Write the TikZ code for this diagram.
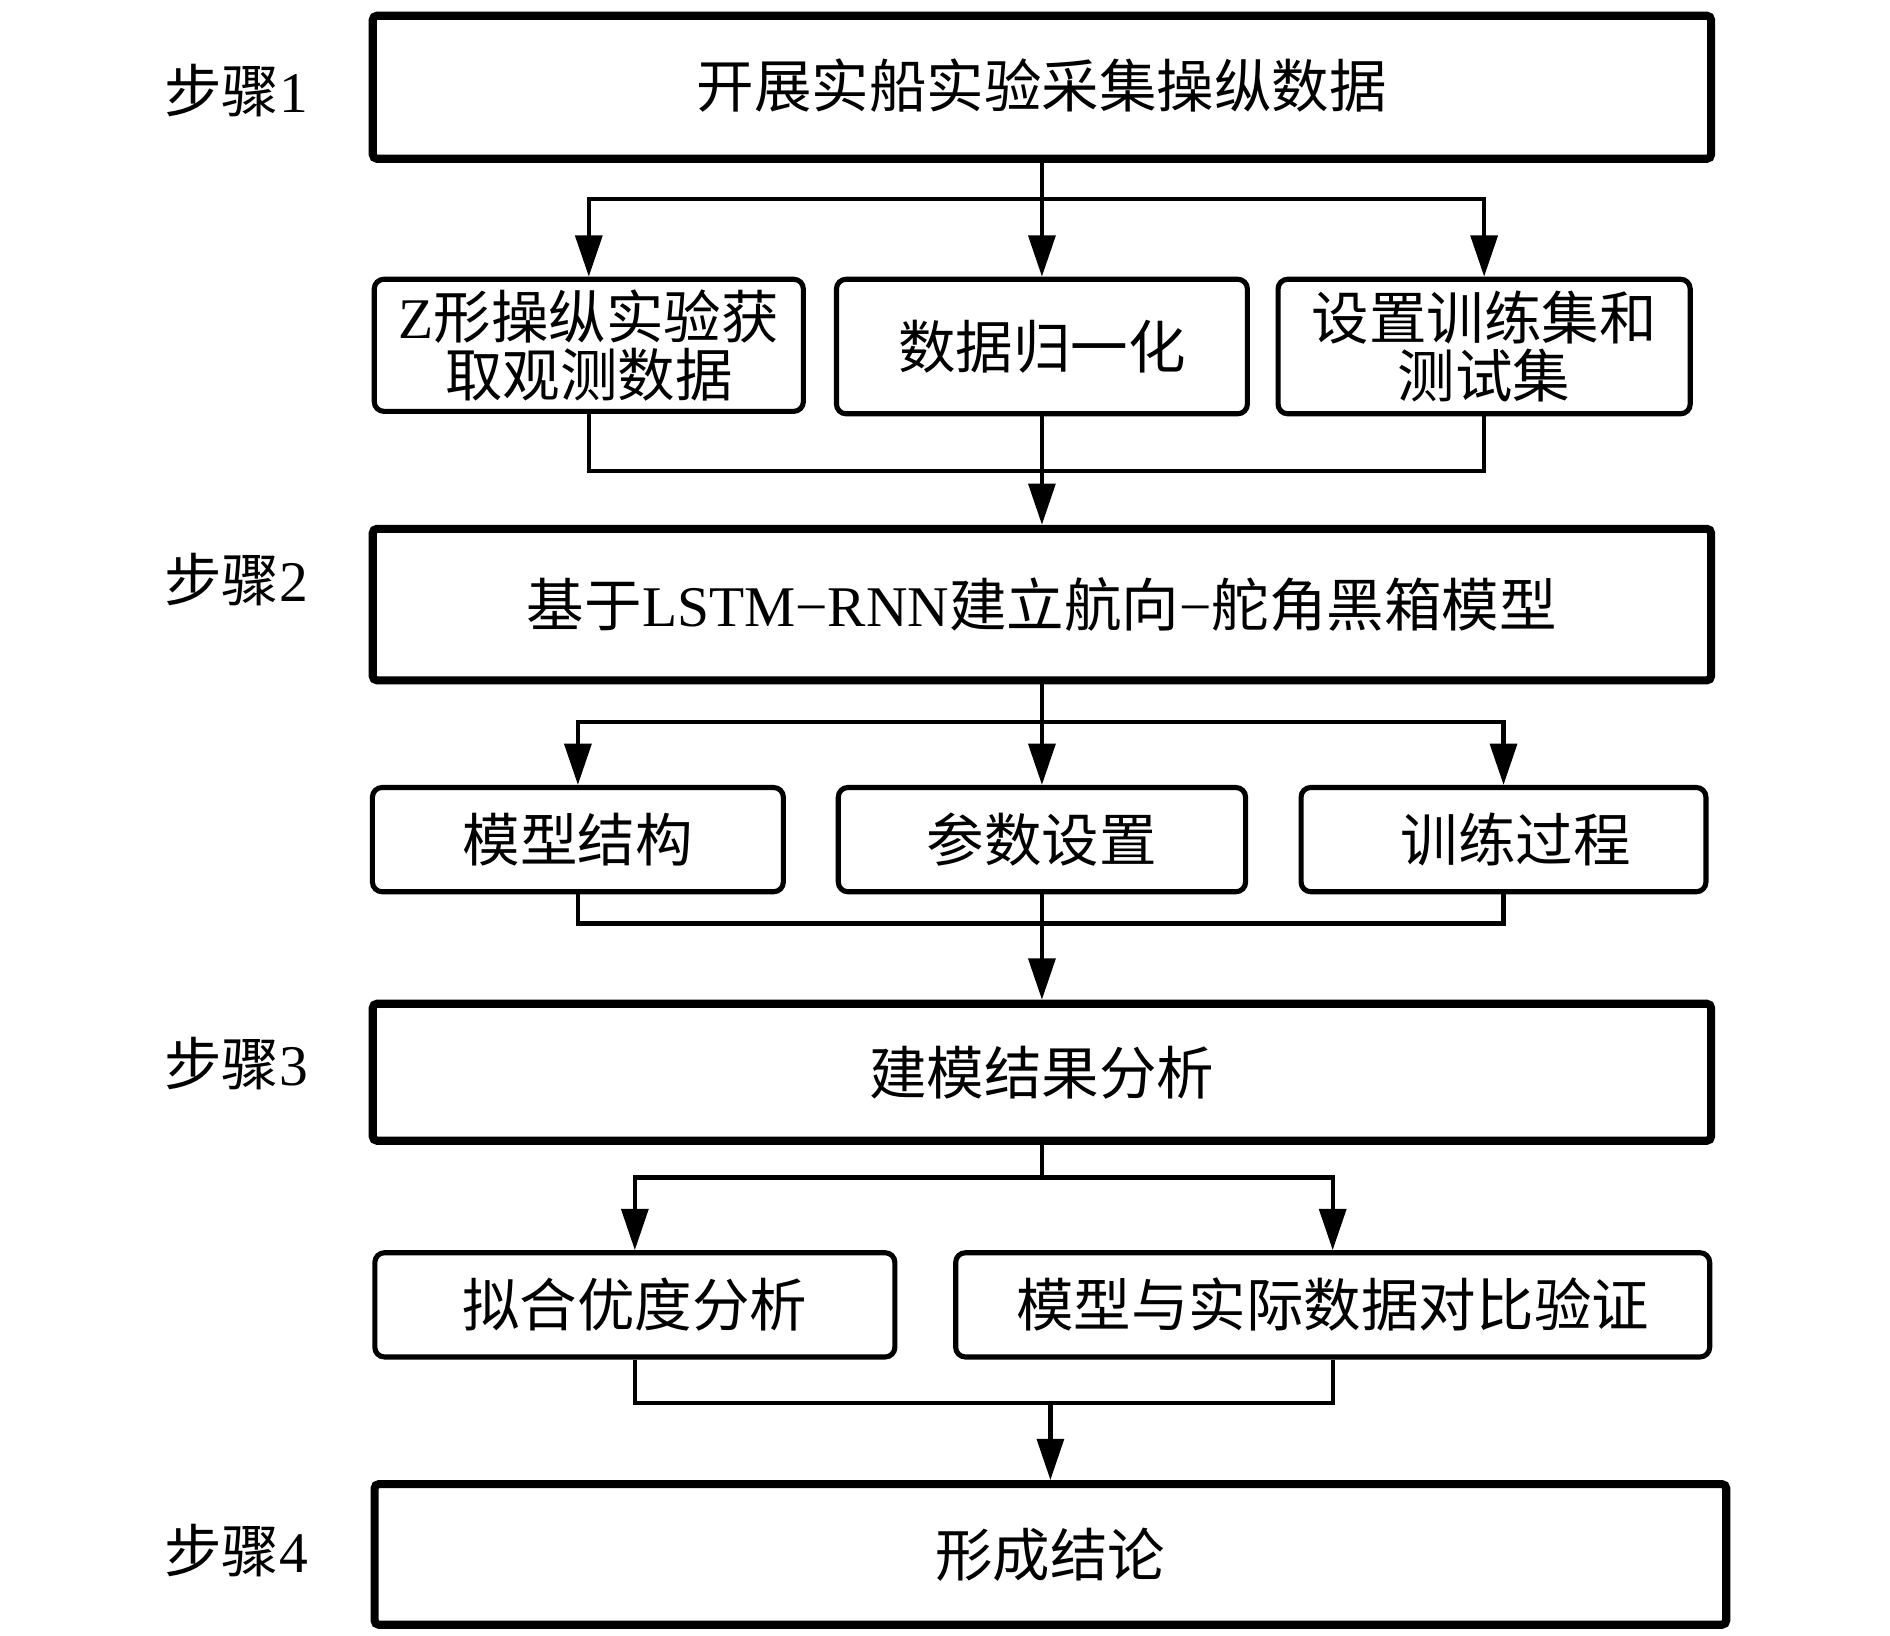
\documentclass[tikz,border=0pt]{standalone}
\usepackage{fontspec}
\setmainfont{Liberation Serif}
\newfontfamily\cjk{Noto Sans CJK SC}
\usetikzlibrary{arrows.meta}
\newcommand{\boxfont}{\cjk\fontsize{13.5}{13.5}\selectfont}
\tikzset{
  bigbox/.style={draw, line width=1.9pt, rounded corners=1pt, minimum width=11.04cm, inner sep=0pt, font=\boxfont},
  smallbox/.style={draw, line width=1.2pt, rounded corners=0.08cm, minimum height=0.86cm, inner sep=0pt, align=center, font=\boxfont},
  link/.style={line width=1pt},
  arr/.style={line width=1pt, -{Triangle[length=0.34cm,width=0.22cm]}},
  steplabel/.style={anchor=west, inner sep=0pt, font=\boxfont}
}

\begin{document}
\begin{tikzpicture}[x=0.01cm, y=-0.01cm]
\useasboundingbox (0,0) rectangle (1560,1350);

% step labels
\node[steplabel] (lab1) at (135,75) {步骤\textrm{1}};
\node[steplabel] (lab2) at (135,478) {步骤\textrm{2}};
\node[steplabel] (lab3) at (135,878) {步骤\textrm{3}};
\node[steplabel] (lab4) at (135,1280) {步骤\textrm{4}};

% main steps
\node[bigbox, minimum height=1.18cm] (s1) at (860,72) {\raisebox{0.07cm}{开展实船实验采集操纵数据}};
\node[bigbox, minimum height=1.25cm] (s2) at (860,499) {\raisebox{-0.05cm}{基于\textrm{LSTM−RNN}建立航向\textrm{−}舵角黑箱模型}};
\node[bigbox, minimum height=1.13cm] (s3) at (860,885) {建模结果分析};
\node[bigbox, minimum height=1.16cm, minimum width=11.15cm] (s4) at (867,1283) {形成结论};

% sub steps
\node[smallbox, minimum width=3.54cm, minimum height=1.09cm] (zexp) at (486,285) {\textrm{Z}形操纵实验获\\取观测数据};
\node[smallbox, minimum width=3.39cm, minimum height=1.11cm] (norm) at (860,286) {数据归一化};
\node[smallbox, minimum width=3.40cm, minimum height=1.11cm] (sets) at (1225,286) {设置训练集和\\测试集};

\node[smallbox, minimum width=3.39cm] (struct) at (477,693) {模型结构};
\node[smallbox, minimum width=3.36cm] (param) at (860,693) {参数设置};
\node[smallbox, minimum width=3.34cm] (train) at (1241,693) {\hspace{0.2cm}训练过程};

\node[smallbox, minimum width=4.29cm] (fit) at (524,1077) {拟合优度分析};
\node[smallbox, minimum width=6.22cm] (cmp) at (1100,1077) {模型与实际数据对比验证};

% step 1
\draw[arr] (s1.south) -- ++(0,30) -| (zexp.north);
\draw[arr] (s1.south) -- (norm.north);
\draw[arr] (s1.south) -- ++(0,30) -| (sets.north);
\draw[link] (zexp.south) -- ++(0,47) -| (sets.south);
\draw[arr] (norm.south) -- (s2.north);

% step 2
\draw[arr] (s2.south) -- ++(0,31) -| (struct.north);
\draw[arr] (s2.south) -- (param.north);
\draw[arr] (s2.south) -- ++(0,31) -| (train.north);
\draw[link] (struct.south) -- ++(0,24) -| (train.south);
\draw[arr] (param.south) -- (s3.north);

% step 3
\draw[arr] (s3.south) -- ++(0,27) -| (fit.north);
\draw[arr] (s3.south) -- ++(0,27) -| (cmp.north);
\draw[link] (fit.south) -- ++(0,36) -| (cmp.south);
\coordinate (join3) at ([yshift=-0.36cm]fit.south -| s4.north);
\draw[arr] (join3) -- (s4.north);
\end{tikzpicture}
\end{document}
